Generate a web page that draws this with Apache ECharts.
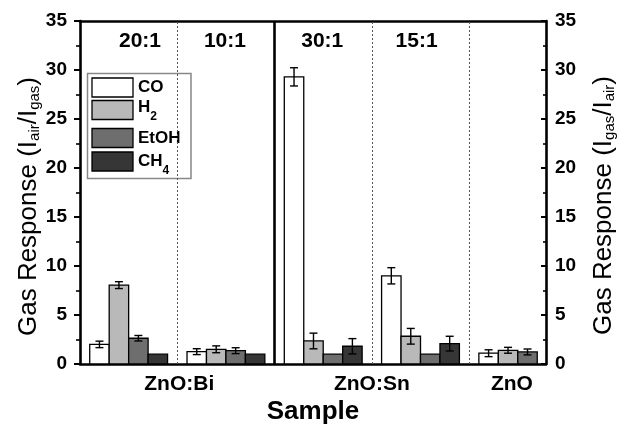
<!DOCTYPE html>
<html><head><meta charset="utf-8">
<script src="https://cdn.jsdelivr.net/npm/echarts@6/dist/echarts.min.js"></script>
<style>html,body{margin:0;padding:0;background:#fff}#c{width:617px;height:424px}</style>
</head><body><div id="c"></div>
<script>
// ---- data ----
const groups = ['ZnO:Bi 20:1', 'ZnO:Bi 10:1', 'ZnO:Sn 30:1', 'ZnO:Sn 15:1', 'ZnO'];
const ratioLabels = ['20:1', '10:1', '30:1', '15:1'];
const sampleLabels = ['ZnO:Bi', 'ZnO:Sn', 'ZnO'];
const gases = ['CO', 'H2', 'EtOH', 'CH4'];
const coValues   = [2.0, 1.26, 29.3, 9.0, 1.1];
const coErrors   = [0.33, 0.3, 0.93, 0.83, 0.35];
const h2Values   = [8.05, 1.5, 2.35, 2.83, 1.4];
const h2Errors   = [0.35, 0.35, 0.8, 0.8, 0.3];
const etohValues = [2.63, 1.36, 1.0, 1.0, 1.23];
const etohErrors = [0.28, 0.3, 0, 0, 0.3];
const ch4Values  = [1.0, 1.0, 1.81, 2.08, null];
const ch4Errors  = [0, 0, 0.78, 0.75, 0];
const yTickValues = [0, 5, 10, 15, 20, 25, 30, 35];

// ---- chart ----
const FONT = '"Liberation Sans", Arial, Helvetica, sans-serif';
const colors = ['#ffffff', '#b9b9b9', '#6e6e6e', '#363636'];
const valueSets = [coValues, h2Values, etohValues, ch4Values];
const errorSets = [coErrors, h2Errors, etohErrors, ch4Errors];
const BAR = 0.2; // bar width in group units

function renderBar(k) {
  return function (params, api) {
    const x = api.value(0), v = api.value(1), e = api.value(2);
    const left = x + (k - 2) * BAR;
    const pBase = api.coord([left, 0]);
    const pTop = api.coord([left + BAR, v]);
    const children = [{
      type: 'rect',
      shape: { x: pBase[0], y: pTop[1], width: pTop[0] - pBase[0], height: pBase[1] - pTop[1] },
      style: { fill: colors[k], stroke: '#000', lineWidth: 1.3 }
    }];
    if (e > 0) {
      const cx = (pBase[0] + pTop[0]) / 2;
      const yHi = api.coord([left, v + e])[1];
      const yLo = api.coord([left, v - e])[1];
      const st = { stroke: '#000', lineWidth: 1.4 };
      children.push(
        { type: 'line', shape: { x1: cx, y1: yHi, x2: cx, y2: yLo }, style: st },
        { type: 'line', shape: { x1: cx - 4, y1: yHi, x2: cx + 4, y2: yHi }, style: st },
        { type: 'line', shape: { x1: cx - 4, y1: yLo, x2: cx + 4, y2: yLo }, style: st }
      );
    }
    return { type: 'group', children };
  };
}

const series = gases.map((g, k) => ({
  name: g,
  type: 'custom',
  renderItem: renderBar(k),
  encode: { x: 0, y: 1 },
  itemStyle: { color: colors[k] },
  z: 3,
  data: valueSets[k].map((v, i) => v == null ? null : [i, v, errorSets[k][i] || 0]).filter(d => d)
}));

const dotted = { color: '#555', width: 1, type: [2, 2] };
series.push({
  type: 'line', data: [], silent: true, z: 1,
  markLine: {
    symbol: 'none', silent: true, animation: false, label: { show: false },
    data: [
      { xAxis: 0.5, lineStyle: dotted },
      { xAxis: 1.5, lineStyle: { color: '#000', width: 2.6, type: 'solid' } },
      { xAxis: 2.5, lineStyle: dotted },
      { xAxis: 3.5, lineStyle: dotted }
    ]
  }
});

const subRich = { s: { fontSize: 15, fontFamily: FONT, padding: [12, 0, 0, 0] } };
const legendRich = { s: { fontSize: 12, fontWeight: 'bold', fontFamily: FONT, padding: [20, 0, 0, 0] } };

const legendRows = [78, 100.5, 128.5, 152];
const legendTextY = [87.5, 107, 138.3, 161];
const legendChildren = [{
  type: 'rect', shape: { x: 87.5, y: 73.5, width: 103.5, height: 105 },
  style: { fill: '#fff', stroke: '#888', lineWidth: 1.5 }
}];
gases.forEach((g, k) => {
  legendChildren.push({
    type: 'rect', shape: { x: 92, y: legendRows[k], width: 41, height: 19 },
    style: { fill: colors[k], stroke: '#000', lineWidth: 1.3 }
  });
  legendChildren.push({
    type: 'text', x: 138, y: legendTextY[k],
    style: {
      text: g.replace(/(\d)/, '{s|$1}'), rich: legendRich,
      font: 'bold 17px ' + FONT, fill: '#000', verticalAlign: 'middle', align: 'left'
    }
  });
});

const axisLineStyle = { show: true, onZero: false, lineStyle: { color: '#000', width: 2.6 } };

const option = {
  animation: false,
  backgroundColor: '#fff',
  grid: { left: 80, right: 71, top: 21, bottom: 60, containLabel: false, outerBoundsMode: 'none' },
  xAxis: [{
    type: 'value', min: -0.5, max: 4.29, position: 'bottom',
    axisLine: axisLineStyle,
    axisTick: { show: false },
    splitLine: { show: false },
    axisLabel: {
      customValues: [0.52, 2.5, 3.94],
      formatter: (val) => sampleLabels[[0.52, 2.5, 3.94].findIndex(p => Math.abs(p - val) < 0.05)] || '',
      fontFamily: FONT, fontWeight: 'bold', fontSize: 21, color: '#000', margin: 10
    },
    name: 'Sample', nameLocation: 'middle', nameGap: 35, nameMoveOverlap: false,
    nameTextStyle: { fontFamily: FONT, fontWeight: 'bold', fontSize: 26, color: '#000' }
  }, {
    type: 'value', min: -0.5, max: 4.29, position: 'top',
    axisLine: axisLineStyle,
    axisTick: { show: false },
    splitLine: { show: false },
    axisLabel: {
      inside: true,
      customValues: [0.117, 0.99, 1.99, 2.96],
      formatter: (val) => ratioLabels[[0.117, 0.99, 1.99, 2.96].findIndex(p => Math.abs(p - val) < 0.05)] || '',
      fontFamily: FONT, fontWeight: 'bold', fontSize: 21, color: '#000', margin: 10
    }
  }],
  yAxis: [{
    type: 'value', min: 0, max: 35, interval: 5, position: 'left',
    axisLine: axisLineStyle,
    axisTick: { show: true, inside: false, length: 6, lineStyle: { color: '#000', width: 2 } },
    minorTick: { show: true, splitNumber: 2, length: 4, lineStyle: { color: '#000', width: 1.6 } },
    splitLine: { show: false },
    axisLabel: {
      formatter: (v) => yTickValues.includes(v) ? String(v) : '',
      fontFamily: FONT, fontWeight: 'bold', fontSize: 19, color: '#000', margin: 13
    },
    name: 'Gas Response (I{s|air}/I{s|gas})', nameLocation: 'middle', nameRotate: 90, nameGap: 38,
    nameMoveOverlap: false,
    nameTextStyle: { fontFamily: FONT, fontSize: 26, color: '#000', rich: subRich, padding: [0, 28, 0, 0] }
  }, {
    type: 'value', min: 0, max: 35, interval: 5, position: 'right',
    axisLine: axisLineStyle,
    axisTick: { show: true, inside: true, length: 5, lineStyle: { color: '#000', width: 2 } },
    minorTick: { show: true, splitNumber: 2, length: 3, lineStyle: { color: '#000', width: 1.6 } },
    splitLine: { show: false },
    axisLabel: {
      formatter: (v) => yTickValues.includes(v) ? String(v) : '',
      fontFamily: FONT, fontWeight: 'bold', fontSize: 19, color: '#000', margin: 9
    },
    name: 'Gas Response (I{s|gas}/I{s|air})', nameLocation: 'middle', nameRotate: 90, nameGap: 44,
    nameMoveOverlap: false,
    nameTextStyle: { fontFamily: FONT, fontSize: 26, color: '#000', rich: subRich, padding: [0, 26, 0, 0] }
  }],
  graphic: [{ type: 'group', z: 100, children: legendChildren }],
  series: series
};

const chart = echarts.init(document.getElementById('c'));
chart.setOption(option);
</script>
</body></html>
